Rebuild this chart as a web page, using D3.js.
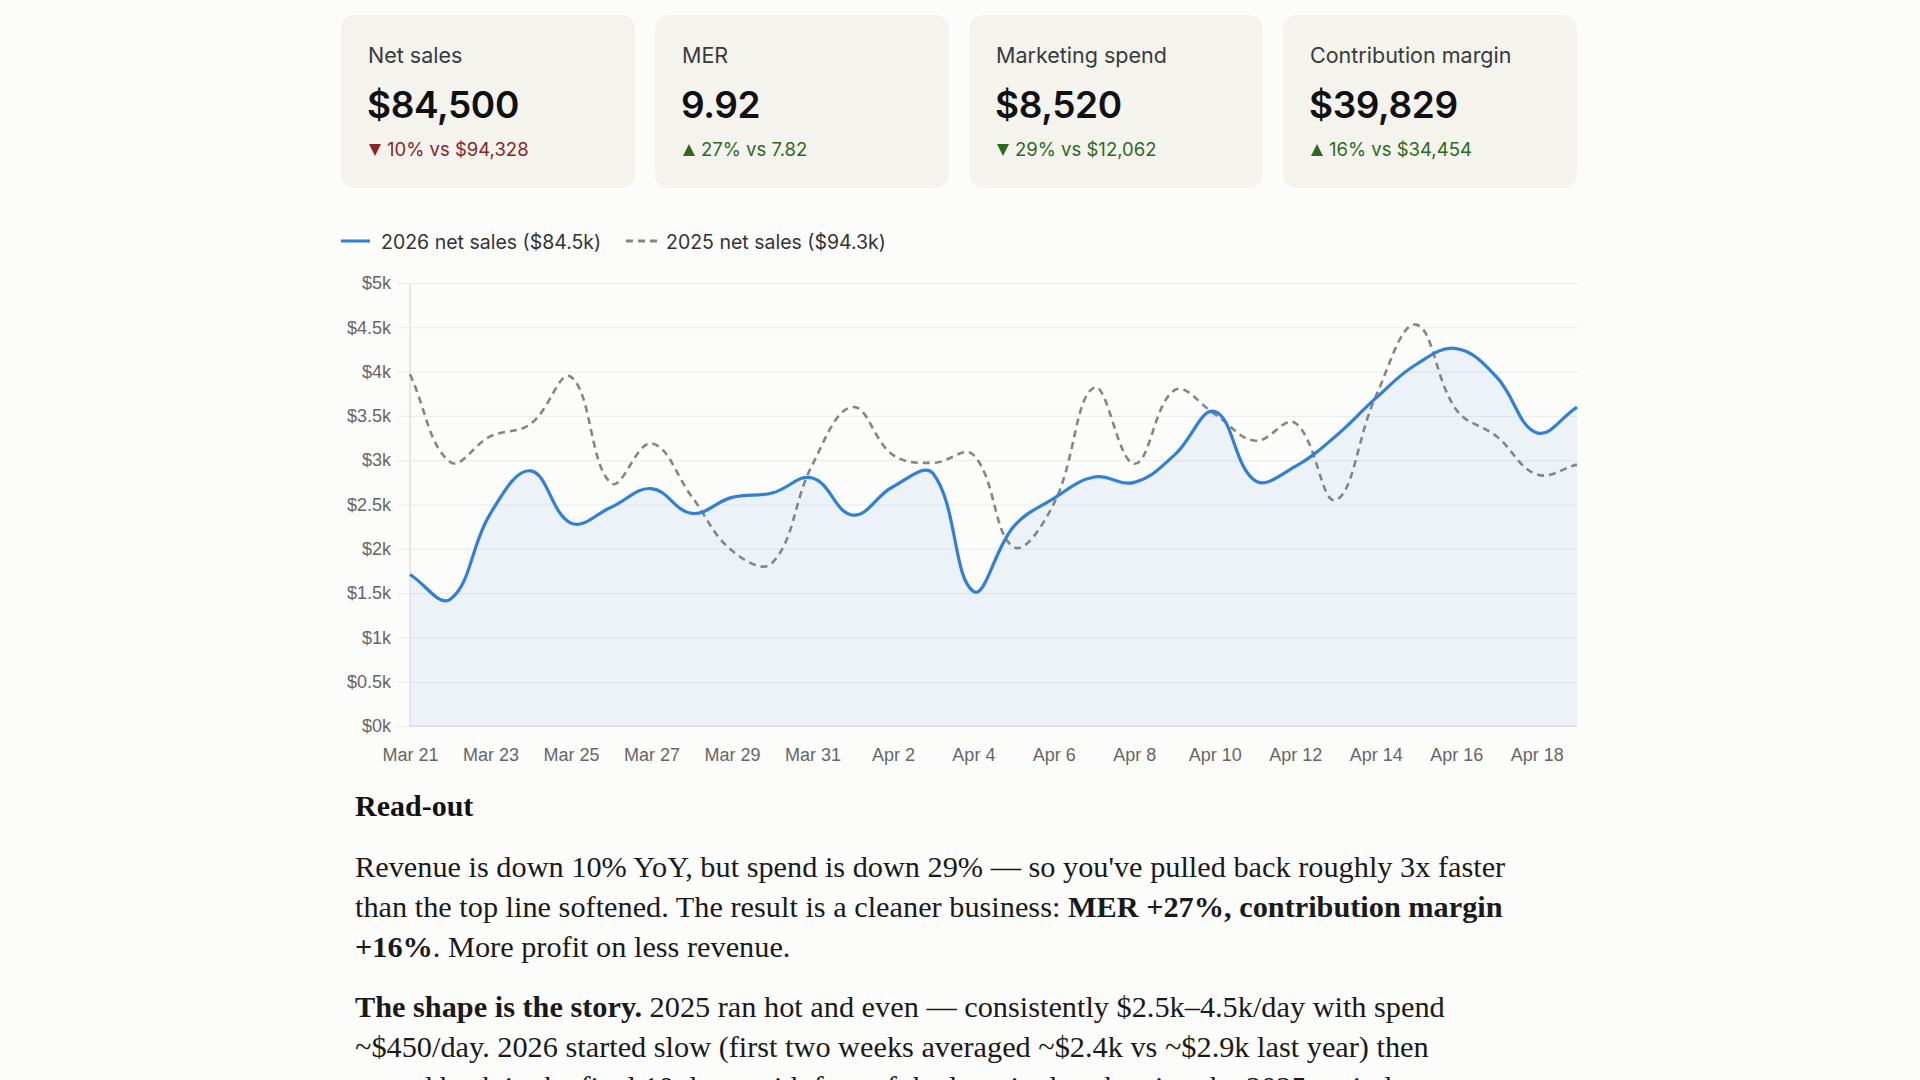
<!DOCTYPE html>
<html>
<head>
<meta charset="utf-8">
<script src="https://cdn.jsdelivr.net/npm/d3@7"></script>
<style>
html, body { margin: 0; padding: 0; background: #fcfcfb; overflow: hidden; }
svg { display: block; }
</style>
</head>
<body>
<div id="container"></div>
<script>
// ---- data ----
var days = ["Mar 21","Mar 22","Mar 23","Mar 24","Mar 25","Mar 26","Mar 27","Mar 28","Mar 29","Mar 30",
            "Mar 31","Apr 1","Apr 2","Apr 3","Apr 4","Apr 5","Apr 6","Apr 7","Apr 8","Apr 9",
            "Apr 10","Apr 11","Apr 12","Apr 13","Apr 14","Apr 15","Apr 16","Apr 17","Apr 18","Apr 19"];
var sales2026 = [1710,1430,2400,2880,2290,2470,2680,2400,2580,2630,
                 2800,2380,2700,2850,1520,2250,2570,2810,2750,3060,
                 3550,2770,2930,3270,3700,4080,4260,3940,3310,3600];
var sales2025 = [3970,2980,3270,3410,3940,2740,3190,2590,1980,1840,
                 2950,3600,3060,2970,3060,2020,2510,3820,2960,3790,
                 3520,3220,3420,2550,3720,4530,3570,3270,2840,2950];
var yTicks = [0,500,1000,1500,2000,2500,3000,3500,4000,4500,5000];
var xTickLabels = days.filter(function(d,i){ return i % 2 === 0; });
var legendLabels = ["2026 net sales ($84.5k)","2025 net sales ($94.3k)"];

var cardLabels = ["Net sales","MER","Marketing spend","Contribution margin"];
var cardValues = ["$84,500","9.92","$8,520","$39,829"];
var cardChanges = ["10% vs $94,328","27% vs 7.82","29% vs $12,062","16% vs $34,454"];
var cardArrows = ["down","up","down","up"];
var cardGood = [false,true,true,true];

var readoutTitle = "Read-out";
var readoutLines = [
    [{t:"Revenue is down 10% YoY, but spend is down 29% \u2014 so you've pulled back roughly 3x faster"}],
    [{t:"than the top line softened. The result is a cleaner business: "},{t:"MER +27%, contribution margin",b:true}],
    [{t:"+16%",b:true},{t:". More profit on less revenue."}],
    [{t:"The shape is the story.",b:true},{t:" 2025 ran hot and even \u2014 consistently $2.5k\u20134.5k/day with spend"}],
    [{t:"~$450/day. 2026 started slow (first two weeks averaged ~$2.4k vs ~$2.9k last year) then"}],
    [{t:"roared back in the final 10 days, with four of the last six days beating the 2025 period."}]
];

// ---- layout ----
var width = 1920, height = 1080;
var sans = "Inter, 'Noto Sans', sans-serif";
var chartFont = "'Liberation Sans', Arial, sans-serif";
var serif = "'Liberation Serif', 'Times New Roman', serif";
var blue = "#2f7fdb", gray = "#858585";
var plot = {left: 410, right: 1577, top: 283, bottom: 726, gridStart: 397};

function getDistance(x1,y1,x2,y2){
    return Math.sqrt(Math.pow(y2-y1,2) + Math.pow(x2-x1,2));
}

// same spline the chart library used (tension based, control points kept inside the plot)
function splinePath(pts, tension){
    var cps = pts.map(function(p,i){
        var p0 = pts[i-1] || p, p2 = pts[i+1] || p;
        var d01 = getDistance(p0[0],p0[1],p[0],p[1]);
        var d12 = getDistance(p[0],p[1],p2[0],p2[1]);
        var s01 = d01/(d01+d12) || 0, s12 = d12/(d01+d12) || 0;
        var fa = tension*s01, fb = tension*s12;
        var clampY = function(v){ return Math.max(plot.top, Math.min(plot.bottom, v)); };
        return {
            prev: [p[0] - fa*(p2[0]-p0[0]), clampY(p[1] - fa*(p2[1]-p0[1]))],
            next: [p[0] + fb*(p2[0]-p0[0]), clampY(p[1] + fb*(p2[1]-p0[1]))]
        };
    });
    var path = d3.path();
    path.moveTo(pts[0][0], pts[0][1]);
    for(let i = 1; i < pts.length; i++){
        path.bezierCurveTo(cps[i-1].next[0], cps[i-1].next[1], cps[i].prev[0], cps[i].prev[1], pts[i][0], pts[i][1]);
    }
    return path;
}

var svg = d3.select('#container').append('svg')
    .attr('width', width).attr('height', height);

// ---- cards ----
var cardW = 294, cardH = 173, cardGap = 20, cardX0 = 341, cardY0 = 15;
var cards = svg.selectAll('g.card').data(cardLabels).enter().append('g')
    .attr('class','card')
    .attr('transform', function(d,i){ return 'translate(' + (cardX0 + i*(cardW+cardGap)) + ',' + cardY0 + ')'; });
cards.append('rect')
    .attr('width', cardW).attr('height', cardH)
    .attr('rx', 14).attr('ry', 14)
    .style('fill', '#f4f3ee');
cards.append('text')
    .attr('x', 27).attr('y', 48)
    .style('font-family', sans).style('font-size', '21.5px').style('fill', '#3a3a3a')
    .text(function(d){ return d; });
cards.append('text')
    .attr('x', 26).attr('y', 103)
    .style('font-family', sans).style('font-size', '37px').style('font-weight', 600).style('fill', '#111')
    .style('letter-spacing', '-0.4px')
    .text(function(d,i){ return cardValues[i]; });
cards.append('path')
    .attr('d', function(d,i){
        return cardArrows[i] === 'up' ? 'M28,141 L40,141 L34,129 Z' : 'M28,129 L40,129 L34,141 Z';
    })
    .style('fill', function(d,i){ return cardGood[i] ? '#2d6a1e' : '#8a2626'; });
cards.append('text')
    .attr('x', 46).attr('y', 141)
    .style('font-family', sans).style('font-size', '18.5px')
    .style('fill', function(d,i){ return cardGood[i] ? '#2d6a1e' : '#8a2626'; })
    .text(function(d,i){ return cardChanges[i]; });

// ---- legend ----
var legendX = [341, 626];
var legend = svg.selectAll('g.legend').data(legendLabels).enter().append('g')
    .attr('class','legend')
    .attr('transform', function(d,i){ return 'translate(' + legendX[i] + ',241)'; });
legend.append('line')
    .attr('x1', 0).attr('x2', function(d,i){ return i === 0 ? 29 : 31; })
    .attr('y1', 0).attr('y2', 0)
    .style('stroke', function(d,i){ return i === 0 ? blue : gray; })
    .style('stroke-width', 3)
    .style('stroke-dasharray', function(d,i){ return i === 0 ? null : '7,5'; });
legend.append('text')
    .attr('x', 40).attr('y', 8)
    .style('font-family', sans).style('font-size', '19.5px').style('fill', '#333')
    .text(function(d){ return d; });

// ---- chart ----
var x = d3.scalePoint().domain(days).range([plot.left, plot.right]);
var y = d3.scaleLinear().domain([0, 5000]).range([plot.bottom, plot.top]);

var yAxis = svg.append('g')
    .attr('transform', 'translate(' + plot.gridStart + ',0)')
    .call(d3.axisLeft(y).tickValues(yTicks).tickSize(-(plot.right - plot.gridStart)).tickPadding(6)
        .tickFormat(function(v){ return '$' + (v/1000) + 'k'; }));
yAxis.select('.domain').remove();
yAxis.selectAll('line').style('stroke', '#ebebea').style('stroke-width', 1);
yAxis.selectAll('text').style('font-family', chartFont).style('font-size', '18px').style('fill', '#666');

var xAxis = svg.append('g')
    .attr('transform', 'translate(0,' + plot.bottom + ')')
    .call(d3.axisBottom(x).tickValues(xTickLabels).tickSize(0).tickPadding(22));
xAxis.select('.domain').remove();
xAxis.selectAll('text').style('font-family', chartFont).style('font-size', '18px').style('fill', '#666');

var pts2026 = sales2026.map(function(v,i){ return [x(days[i]), y(v)]; });
var pts2025 = sales2025.map(function(v,i){ return [x(days[i]), y(v)]; });

var area = splinePath(pts2026, 0.4);
area.lineTo(plot.right, plot.bottom);
area.lineTo(plot.left, plot.bottom);
area.closePath();
svg.append('path')
    .attr('d', area.toString())
    .style('fill', 'rgba(47,127,219,0.08)');

// axis borders
svg.append('line')
    .attr('x1', plot.left).attr('x2', plot.left)
    .attr('y1', plot.top).attr('y2', plot.bottom)
    .style('stroke', '#e2e2e2').style('stroke-width', 1.5);
svg.append('line')
    .attr('x1', plot.left).attr('x2', plot.right)
    .attr('y1', plot.bottom).attr('y2', plot.bottom)
    .style('stroke', '#dcdcdc').style('stroke-width', 1.5);

svg.append('path')
    .attr('d', splinePath(pts2025, 0.4).toString())
    .style('fill', 'none').style('stroke', gray).style('stroke-width', 2.6)
    .style('stroke-dasharray', '7,5');
svg.append('path')
    .attr('d', splinePath(pts2026, 0.4).toString())
    .style('fill', 'none').style('stroke', blue).style('stroke-width', 3.2)
    .style('stroke-linejoin', 'round');

// ---- read-out ----
svg.append('text')
    .attr('x', 355).attr('y', 816)
    .style('font-family', serif).style('font-size', '30px').style('font-weight', 700).style('fill', '#111')
    .text(readoutTitle);

var lineY = [877, 917, 957, 1017, 1057, 1097];
var lines = svg.selectAll('text.readout').data(readoutLines).enter().append('text')
    .attr('class', 'readout')
    .attr('x', 355)
    .attr('y', function(d,i){ return lineY[i]; })
    .style('font-family', serif).style('font-size', '30.3px').style('fill', '#1a1a1a');
lines.selectAll('tspan').data(function(d){ return d; }).enter().append('tspan')
    .style('font-weight', function(d){ return d.b ? 700 : 400; })
    .text(function(d){ return d.t; });
</script>
</body>
</html>
